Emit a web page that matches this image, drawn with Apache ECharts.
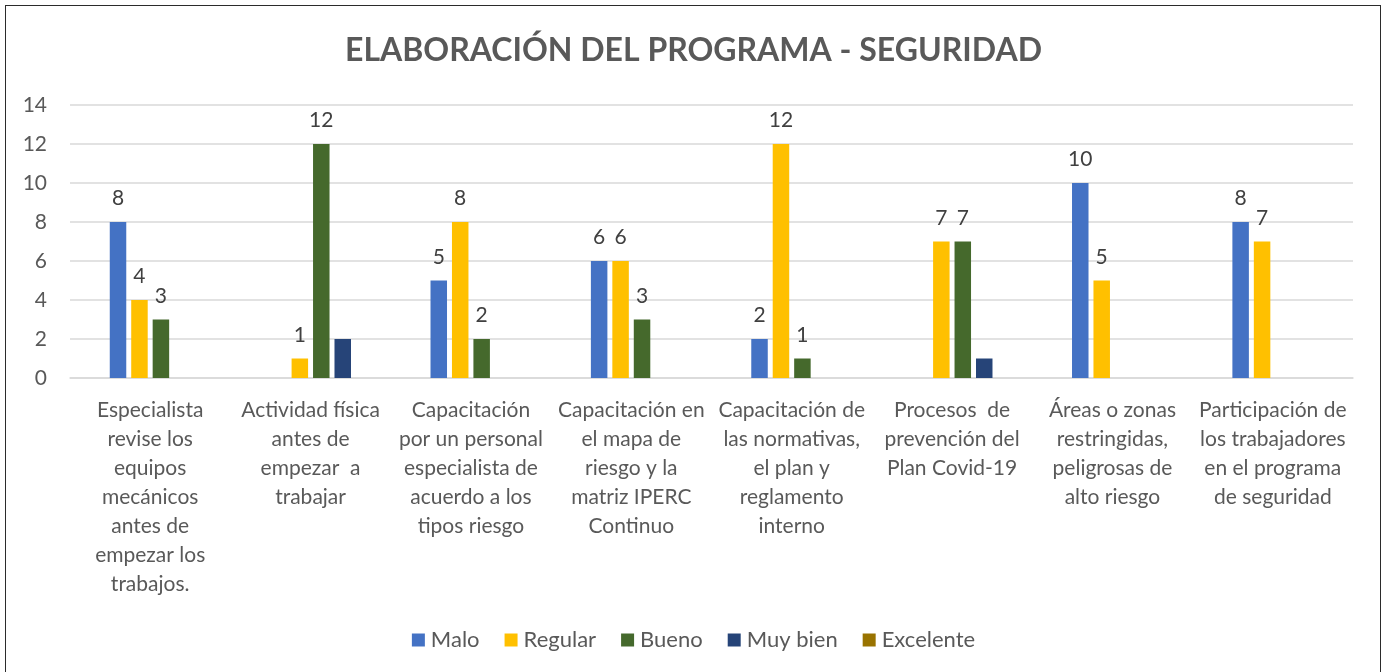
<!DOCTYPE html>
<html>
<head>
<meta charset="utf-8">
<script src="https://cdn.jsdelivr.net/npm/echarts@6/dist/echarts.min.js"></script>
<style>
html,body{margin:0;padding:0;background:#fff;}
#frame{position:absolute;left:5px;top:5px;width:1376px;height:680px;border:1.5px solid #2b2b2b;box-sizing:border-box;}
#chart{position:absolute;left:0;top:0;width:1387px;height:672px;}
</style>
</head>
<body>
<div id="frame"></div>
<div id="chart"></div>
<script>
const titleText = 'ELABORACIÓN DEL PROGRAMA - SEGURIDAD';
const categories = [
  'Especialista\nrevise los\nequipos\nmecánicos\nantes de\nempezar los\ntrabajos.',
  'Actividad física\nantes de\nempezar  a\ntrabajar',
  'Capacitación\npor un personal\nespecialista de\nacuerdo a los\ntipos riesgo',
  'Capacitación en\nel mapa de\nriesgo y la\nmatriz IPERC\nContinuo',
  'Capacitación de\nlas normativas,\nel plan y\nreglamento\ninterno',
  'Procesos  de\nprevención del\nPlan Covid-19',
  'Áreas o zonas\nrestringidas,\npeligrosas de\nalto riesgo',
  'Participación de\nlos trabajadores\nen el programa\nde seguridad'
];
const seriesNames = ['Malo', 'Regular', 'Bueno', 'Muy bien', 'Excelente'];
const malo     = [8, '-', 5, 6, 2, '-', 10, 8];
const regular  = [4, 1, 8, 6, 12, 7, 5, 7];
const bueno    = [3, 12, 2, 3, 1, 7, '-', '-'];
const muyBien  = ['-', 2, '-', '-', '-', 1, '-', '-'];
const excelente = ['-', '-', '-', '-', '-', '-', '-', '-'];
const emptySlot = ['-', '-', '-', '-', '-', '-', '-', '-'];
const yTicks = [0, 2, 4, 6, 8, 10, 12, 14];

const colors = ['#4472C4', '#FFC000', '#45692C', '#264478', '#997300'];
const FONT = 'Lato, "Open Sans", sans-serif';
const txt = '#595959';

function bar(name, data, color, showLabel) {
  return {
    name: name, type: 'bar', data: data,
    barWidth: 16.5, barGap: '30%',
    itemStyle: { color: color },
    label: {
      show: showLabel, position: 'top', distance: 13,
      color: '#404040', fontSize: 21, fontFamily: FONT
    },
    emphasis: { disabled: true }
  };
}

const chart = echarts.init(document.getElementById('chart'), null, { renderer: 'canvas' });
chart.setOption({
  animation: false,
  title: {
    text: titleText, left: 'center', top: 30,
    textStyle: { fontFamily: FONT, fontWeight: 'bold', fontSize: 32, color: txt }
  },
  legend: {
    data: seriesNames, left: 'center', top: 624,
    itemWidth: 13, itemHeight: 13, itemGap: 25, icon: 'rect',
    textStyle: { fontFamily: FONT, fontSize: 22, color: txt, padding: [0, 0, 0, 1] }
  },
  grid: { left: 70, right: 34, top: 105, bottom: 294, containLabel: false },
  xAxis: {
    type: 'category', data: categories,
    axisLine: { show: true, lineStyle: { color: '#d9d9d9', width: 1.5 } },
    axisTick: { show: false },
    axisLabel: {
      interval: 0, margin: 18, fontFamily: FONT, fontSize: 21,
      lineHeight: 29, color: txt, align: 'center'
    }
  },
  yAxis: {
    type: 'value', min: yTicks[0], max: yTicks[yTicks.length - 1], interval: 2,
    axisLine: { show: false }, axisTick: { show: false },
    splitLine: { lineStyle: { color: '#d9d9d9', width: 1.5 } },
    axisLabel: { margin: 23, fontFamily: FONT, fontSize: 21, color: txt }
  },
  series: [
    bar('', emptySlot, '#ffffff', false),
    bar(seriesNames[0], malo, colors[0], true),
    bar(seriesNames[1], regular, colors[1], true),
    bar(seriesNames[2], bueno, colors[2], true),
    bar(seriesNames[3], muyBien, colors[3], false),
    bar(seriesNames[4], excelente, colors[4], true)
  ]
});
</script>
</body>
</html>
